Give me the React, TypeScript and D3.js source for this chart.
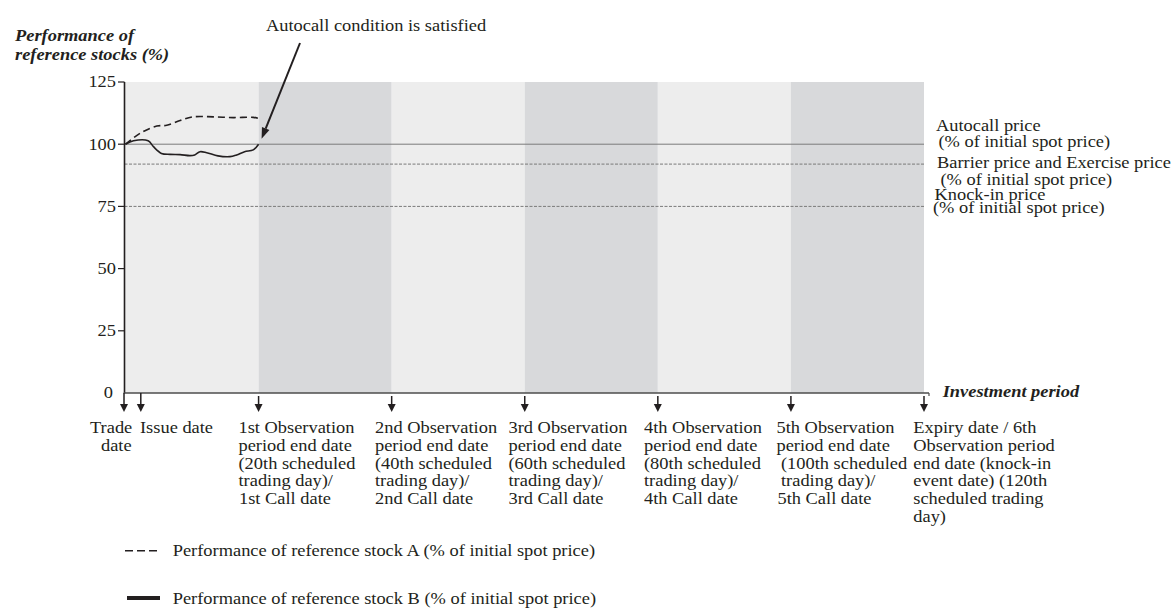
import React from "react";
import * as d3 from "d3";

// ---------- data ----------
const yTicks = [0, 25, 50, 75, 100, 125];
const autocallLevel = 100;
const barrierLevel = 92;
const knockInLevel = 75;

// trading day boundaries of observation periods
const periodEdges = [0, 20, 40, 60, 80, 100, 120];

const stockADays = [0, 2.2, 4.7, 6.2, 8.2, 10.2, 13.2, 16.2, 19.2, 20];
const stockAValues = [100, 104.4, 107.3, 107.6, 109.5, 111, 111, 110.7, 110.8, 110.3];

const stockBDays = [0, 1.2, 3.4, 4.2, 5.4, 6.7, 8.2, 9.7, 10.4, 11.2, 12.2, 13.9, 15.7, 16.7, 17.9, 19.2, 20];
const stockBValues = [100, 101.4, 101.4, 99, 96.3, 95.9, 95.8, 95.4, 95.7, 97, 96.6, 95.3, 95, 95.7, 97, 97.7, 100];

const eventDays = [0, 2.3, 20, 40, 60, 80, 100, 120];
const eventLabels: string[][] = [
  ["Trade", "date"],
  ["Issue date"],
  ["1st Observation", "period end date", "(20th scheduled", "trading day)/", "1st Call date"],
  ["2nd Observation", "period end date", "(40th scheduled", "trading day)/", "2nd Call date"],
  ["3rd Observation", "period end date", "(60th scheduled", "trading day)/", "3rd Call date"],
  ["4th Observation", "period end date", "(80th scheduled", "trading day)/", "4th Call date"],
  ["5th Observation", "period end date", "(100th scheduled", "trading day)/", "5th Call date"],
  ["Expiry date / 6th", "Observation period", "end date (knock-in", "event date) (120th", "scheduled trading", "day)"],
];

const levelLabels: string[] = [
  "Autocall price",
  "(% of initial spot price)",
  "Barrier price and Exercise price",
  "(% of initial spot price)",
  "Knock-in price",
  "(% of initial spot price)",
];

const legendLabels = [
  "Performance of reference stock A (% of initial spot price)",
  "Performance of reference stock B (% of initial spot price)",
];

const titleLines = ["Performance of", "reference stocks (%)"];
const annotationText = "Autocall condition is satisfied";
const xAxisTitle = "Investment period";

// ---------- layout (positions only) ----------
const W = 1175;
const H = 608;
const SX = 1.15;
const FS = 16;
const FONT = "'Liberation Serif', 'Times New Roman', serif";

// per-line x offsets of event labels relative to arrow
const eventLineX: number[][] = [
  [90, 101],
  [140],
  [238.5, 238.5, 238.5, 238.5, 239],
  [375, 375, 375, 375, 375],
  [508.5, 508.5, 508.5, 508.5, 508.5],
  [644, 644, 644, 644, 644],
  [776.5, 776.5, 781, 781, 777.5],
  [913.3, 913.3, 913.3, 913.3, 913.3, 913.3],
];
const levelLabelPos = [
  [936, 131],
  [938.5, 146.5],
  [937, 168],
  [940.5, 184.5],
  [934.5, 200],
  [933, 213],
];

const Txt: React.FC<{
  x: number;
  y: number;
  anchor?: string;
  bold?: boolean;
  italic?: boolean;
  children: React.ReactNode;
}> = ({ x, y, anchor = "start", bold, italic, children }) => (
  <text
    transform={`translate(${x},${y}) scale(${SX},1)`}
    textAnchor={anchor}
    fontFamily={FONT}
    fontSize={FS}
    fontWeight={bold ? "bold" : "normal"}
    fontStyle={italic ? "italic" : "normal"}
    fill="#231f20"
    style={{ whiteSpace: "pre" }}
  >
    {children}
  </text>
);

export default function App() {
  const x = d3.scaleLinear().domain([0, 120]).range([125.5, 924]);
  const y = d3.scaleLinear().domain([0, 125]).range([393, 82]);
  const axisX = 124.5;

  const line = d3
    .line<[number, number]>()
    .x((d) => x(d[0]))
    .y((d) => y(d[1]))
    .curve(d3.curveCatmullRom.alpha(0.5));

  const aPts = stockADays.map((d, i) => [d, stockAValues[i]] as [number, number]);
  const bPts = stockBDays.map((d, i) => [d, stockBValues[i]] as [number, number]);

  const bands = periodEdges.slice(0, -1).map((d, i) => ({
    x0: i === 0 ? axisX : x(d),
    x1: x(periodEdges[i + 1]),
    dark: i % 2 === 1,
  }));

  // annotation arrow
  const tip: [number, number] = [x(20) + 3, y(102.2)];
  const tail: [number, number] = [300, 43];
  const ang = Math.atan2(tip[1] - tail[1], tip[0] - tail[0]);
  const ah = 11,
    aw = 4;
  const headBase: [number, number] = [tip[0] - ah * Math.cos(ang), tip[1] - ah * Math.sin(ang)];
  const headPts = [
    tip,
    [headBase[0] + aw * Math.sin(ang), headBase[1] - aw * Math.cos(ang)],
    [headBase[0] - aw * Math.sin(ang), headBase[1] + aw * Math.cos(ang)],
  ]
    .map((p) => p.join(","))
    .join(" ");

  return (
    <svg
      width={W}
      height={H}
      viewBox={`0 0 ${W} ${H}`}
      style={{ position: "absolute", left: 0, top: 0, background: "#fff" }}
    >
      {/* bands */}
      {bands.map((b, i) => (
        <rect
          key={i}
          x={b.x0}
          y={y(125)}
          width={b.x1 - b.x0}
          height={y(0) - y(125)}
          fill={b.dark ? "#d8d9db" : "#ededed"}
        />
      ))}

      {/* level lines */}
      <line x1={axisX} x2={x(120)} y1={y(autocallLevel)} y2={y(autocallLevel)} stroke="#7a7a7a" strokeWidth={1} />
      <line
        x1={axisX}
        x2={x(120)}
        y1={y(barrierLevel)}
        y2={y(barrierLevel)}
        stroke="#7a7a7a"
        strokeWidth={1}
        strokeDasharray="3,1.5"
      />
      <line
        x1={axisX}
        x2={x(120)}
        y1={y(knockInLevel)}
        y2={y(knockInLevel)}
        stroke="#7a7a7a"
        strokeWidth={1}
        strokeDasharray="3,1.5"
      />

      {/* series */}
      <path d={line(aPts) || ""} fill="none" stroke="#231f20" strokeWidth={1.6} strokeDasharray="7,4" />
      <path d={line(bPts) || ""} fill="none" stroke="#231f20" strokeWidth={1.6} />

      {/* y axis */}
      <line x1={axisX} x2={axisX} y1={y(125)} y2={y(0)} stroke="#231f20" strokeWidth={1.6} />
      {yTicks.map((t) => (
        <g key={t}>
          {t !== 0 && <line x1={118} x2={axisX} y1={y(t)} y2={y(t)} stroke="#231f20" strokeWidth={1.2} />}
          <Txt x={t === 0 ? 113 : 116} y={y(t) + 5.3} anchor="end">
            {String(t)}
          </Txt>
        </g>
      ))}

      {/* x axis */}
      <line x1={axisX - 0.8} x2={929} y1={y(0)} y2={y(0)} stroke="#4d4d4d" strokeWidth={1.6} />
      <line x1={929} x2={929} y1={y(0)} y2={y(0) + 3} stroke="#4d4d4d" strokeWidth={1.2} />

      {/* event arrows and labels */}
      {eventDays.map((d, i) => {
        const ax = i === 0 ? axisX - 0.5 : x(d);
        const top = i <= 1 ? y(0) : y(0) + 3;
        return (
          <g key={i}>
            <line x1={ax} x2={ax} y1={top} y2={405} stroke="#231f20" strokeWidth={1.5} />
            <polygon points={`${ax - 4},404 ${ax + 4},404 ${ax},412`} fill="#231f20" />
            {eventLabels[i].map((s, j) => (
              <Txt key={j} x={eventLineX[i][j]} y={433.3 + j * 17.7}>
                {s}
              </Txt>
            ))}
          </g>
        );
      })}

      {/* level labels */}
      {levelLabels.map((s, i) => (
        <Txt key={i} x={levelLabelPos[i][0]} y={levelLabelPos[i][1]}>
          {s}
        </Txt>
      ))}

      {/* titles */}
      <Txt x={15} y={40.7} bold italic>
        {titleLines[0]}
      </Txt>
      <Txt x={15} y={59.5} bold italic>
        {titleLines[1]}
      </Txt>
      <Txt x={942.7} y={397} bold italic>
        {xAxisTitle}
      </Txt>

      {/* annotation */}
      <Txt x={266} y={30.7}>
        {annotationText}
      </Txt>
      <line x1={tail[0]} y1={tail[1]} x2={headBase[0]} y2={headBase[1]} stroke="#231f20" strokeWidth={2} />
      <polygon points={headPts} fill="#231f20" />

      {/* legend */}
      <line x1={125} x2={160} y1={550.7} y2={550.7} stroke="#231f20" strokeWidth={1.6} strokeDasharray="8,4" />
      <Txt x={172.7} y={556}>
        {legendLabels[0]}
      </Txt>
      <line x1={127} x2={160} y1={598} y2={598} stroke="#231f20" strokeWidth={4} />
      <Txt x={172.7} y={604}>
        {legendLabels[1]}
      </Txt>
    </svg>
  );
}
